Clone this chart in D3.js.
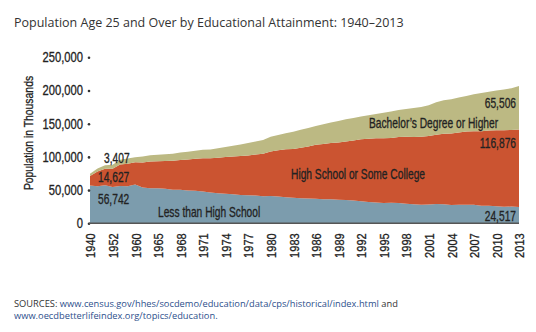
<!DOCTYPE html>
<html><head><meta charset="utf-8">
<script src="https://cdn.jsdelivr.net/npm/d3@7"></script>
<style>
html,body{margin:0;padding:0;background:#fff;}
</style></head>
<body>
<svg id="chart" width="536" height="332"></svg>
<script>
const years = ["1940","1947","1950","1952","1957","1959","1960","1962","1964","1965","1966","1967","1968","1969","1970","1971","1972","1973","1974","1975","1976","1977","1978","1979","1980","1981","1982","1983","1984","1985","1986","1987","1988","1989","1990","1991","1992","1993","1994","1995","1996","1997","1998","1999","2000","2001","2002","2003","2004","2005","2006","2007","2008","2009","2010","2011","2012","2013"];
const lessThanHS = [56742,55658,57477,54694,56039,55855,58569,53956,52952,52655,51938,50544,50573,49350,48971,47901,46454,45372,44622,43836,42666,42425,41949,40596,40948,40268,39303,38508,37592,37460,37091,36391,36089,35610,35065,34278,33130,32240,31422,30458,30803,30534,29620,28843,27862,28292,28961,28518,27658,28026,27823,27787,26305,26372,25791,24991,25208,24517];
const hsSomeCollege = [14627,22461,24583,27479,32419,33727,33212,37749,40149,40885,41758,43729,44717,46871,48315,50115,51343,53273,55087,56812,58711,59831,61756,64151,67291,69905,72235,73564,76310,78220,81073,83073,84764,86018,88130,90455,93280,94927,96568,97699,97796,99278,100572,101125,102509,103025,104549,106295,107453,108886,110333,110762,112286,113419,114359,115283,115267,116876];
const bachelorsPlus = [3407,4459,5424,6185,7172,7896,7657,8959,9320,9705,10180,10591,11179,11529,12024,12611,13336,14221,15296,16249,17471,18614,19314,20548,22170,22726,23988,25948,26892,27844,28442,29680,30782,32527,33343,33961,34417,35659,36522,38281,39724,40769,42019,43786,44859,46619,48632,50370,51765,52455,53728,55769,57714,58494,59778,61269,62818,65506];
const seriesNames = ["Less than High School","High School or Some College","Bachelor's Degree or Higher"];
const seriesColors = ["#7c9cad","#cb5431","#bcb983"];
const yTicks = [0,50000,100000,150000,200000,250000];
const xTickLabels = years.filter((d,i)=>i%3===0);
const title = "Population Age 25 and Over by Educational Attainment: 1940–2013";
const yAxisTitle = "Population in Thousands";

const COND = "'Liberation Sans',Arial,sans-serif";
const svg = d3.select("#chart");
const x = d3.scalePoint().domain(years).range([90,519]);
const y = d3.scaleLinear().domain([0,250000]).range([223.3,57.3]);

const rows = years.map((yr,i)=>({year:yr, less:lessThanHS[i], hs:hsSomeCollege[i], ba:bachelorsPlus[i]}));
const stack = d3.stack().keys(["less","hs","ba"])(rows);
const area = d3.area().x(d=>x(d.data.year)).y0(d=>y(d[0])).y1(d=>y(d[1]));

svg.append("g").selectAll("path").data(stack).join("path")
  .attr("d",area).attr("fill",(d,i)=>seriesColors[i]);

// title
svg.append("text").attr("x",14).attr("y",27)
  .attr("font-family","'Open Sans',sans-serif").attr("font-size",12.5).attr("fill","#333")
  .text(title);

function heavy(sel){ return sel.attr("stroke","#222").attr("stroke-width",0.3); }

// y axis
const ySx = 0.8;
const yAxis = svg.append("g").attr("transform","translate(89,0)")
  .call(d3.axisLeft(y).tickValues(yTicks).tickFormat(d3.format(",")).tickSize(0).tickPadding(0));
yAxis.select(".domain").remove();
heavy(yAxis.selectAll("text").attr("font-family",COND).attr("font-size",14).attr("fill","#222")
  .attr("x",-6/ySx).attr("transform",`scale(${ySx},1)`));
yAxis.selectAll(".tick").append("circle").attr("r",1.3).attr("fill","#333");

heavy(svg.append("text").attr("font-family",COND)
  .attr("transform","translate(33,133) rotate(-90) scale(0.8,1)").attr("text-anchor","middle")
  .attr("font-size",13).attr("fill","#222").text(yAxisTitle));

// x axis
const xSx = 0.82;
const xAxis = svg.append("g").attr("transform","translate(0,223.3)")
  .call(d3.axisBottom(x).tickValues(xTickLabels).tickSize(0).tickSizeOuter(0).tickPadding(0));
xAxis.select(".domain").attr("stroke","#555").attr("stroke-width",1.5).attr("d","M89,0H519");
heavy(xAxis.selectAll("text").attr("font-family",COND).attr("font-size",13.5).attr("fill","#222")
  .attr("transform",`rotate(-90) scale(${xSx},1)`).attr("text-anchor","end").attr("x",-10/xSx).attr("y",0).attr("dy","0.36em"));

// annotations
const ann = [
  {t:"3,407", x:104, y:163, a:"start"},
  {t:"14,627", x:98, y:181.5, a:"start"},
  {t:"56,742", x:98, y:203.5, a:"start"},
  {t:"Less than High School", x:158, y:217, a:"start"},
  {t:"High School or Some College", x:291, y:179, a:"start"},
  {t:"Bachelor\u2019s Degree or Higher", x:369, y:127.5, a:"start"},
  {t:"65,506", x:516, y:107.5, a:"end"},
  {t:"116,876", x:516, y:148, a:"end"},
  {t:"24,517", x:516, y:220.5, a:"end"}
];
const aSx = 0.73;
heavy(svg.append("g").selectAll("text").data(ann).join("text").attr("font-family",COND)
  .attr("transform",d=>`translate(${d.x},${d.y}) scale(${aSx},1)`).attr("text-anchor",d=>d.a)
  .attr("font-size",14).attr("fill","#222").text(d=>d.t));

// sources
const src = svg.append("g").attr("font-family","'Open Sans',sans-serif").attr("font-size",9.3);
const l1 = src.append("text").attr("x",14).attr("y",307);
l1.append("tspan").attr("fill","#333").text("SOURCES: ");
l1.append("tspan").attr("fill","#2d4f8c").text("www.census.gov/hhes/socdemo/education/data/cps/historical/index.html");
l1.append("tspan").attr("fill","#333").text(" and");
src.append("text").attr("x",14).attr("y",318.5).attr("fill","#2d4f8c").text("www.oecdbetterlifeindex.org/topics/education.");
</script>
</body></html>
